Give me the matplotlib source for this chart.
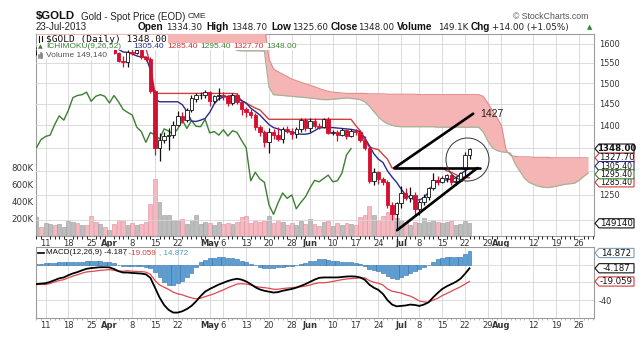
import numpy as np
import pandas as pd
import matplotlib
matplotlib.use("Agg")
import matplotlib.pyplot as plt
from matplotlib.patches import Polygon, Rectangle
from matplotlib.lines import Line2D

plt.rcParams["font.family"] = ["DejaVu Sans"]

# ---------------- trading calendar ----------------
holidays = ["2013-03-29", "2013-05-27", "2013-07-04"]
sessions = pd.bdate_range("2013-03-07", "2013-08-30").drop(pd.to_datetime(holidays))

tick_dates = ["2013-03-11", "2013-03-18", "2013-03-25", "2013-04-01", "2013-04-08",
              "2013-04-15", "2013-04-22", "2013-05-01", "2013-05-06", "2013-05-13",
              "2013-05-20", "2013-05-28", "2013-06-03", "2013-06-10", "2013-06-17",
              "2013-06-24", "2013-07-01", "2013-07-08", "2013-07-15", "2013-07-22",
              "2013-07-29", "2013-08-01", "2013-08-12", "2013-08-19", "2013-08-26"]
tick_labels = ["11", "18", "25", "Apr", "8", "15", "22", "May", "6", "13", "20", "28",
               "Jun", "10", "17", "24", "Jul", "8", "15", "22", "29", "Aug", "12", "19", "26"]
month_names = ["Apr", "May", "Jun", "Jul", "Aug"]

# right-hand price scale labels (others sit under the value tags)
price_grid = [1200, 1250, 1300, 1350, 1400, 1450, 1500, 1550, 1600]
price_labels = ["", "1250", "", "", "1400", "1450", "1500", "1550", "1600"]

# ---------------- daily OHLC ----------------
opens = [1577, 1580, 1577, 1579, 1591, 1588, 1591, 1593, 1604, 1612,
         1607, 1613, 1607, 1604, 1596, 1605, 1596, 1599, 1576, 1556,
         1553, 1578, 1575, 1582, 1565, 1561, 1480, 1350, 1368, 1375,
         1378, 1402, 1422, 1412, 1435, 1462, 1470, 1472, 1478, 1456,
         1468, 1472, 1468, 1452, 1470, 1455, 1437, 1430, 1424, 1396,
         1386, 1362, 1384, 1378, 1369, 1392, 1387, 1380, 1392, 1412,
         1393, 1411, 1398, 1397, 1414, 1383, 1386, 1378, 1390, 1376,
         1388, 1384, 1366, 1350, 1279, 1297, 1283, 1276, 1230, 1211,
         1234, 1254, 1243, 1250, 1222, 1235, 1246, 1264, 1280, 1277,
         1284, 1291, 1277, 1279, 1303, 1334.3]
highs = [1584, 1590, 1584, 1595, 1596, 1595, 1598, 1609, 1614, 1616,
         1614, 1614, 1610, 1606, 1607, 1606, 1604, 1602, 1579, 1569,
         1584, 1586, 1588, 1590, 1568, 1564, 1484, 1382, 1385, 1395,
         1410, 1433, 1430, 1440, 1470, 1477, 1478, 1483, 1480, 1470,
         1488, 1478, 1470, 1476, 1475, 1458, 1442, 1437, 1428, 1400,
         1390, 1395, 1392, 1396, 1396, 1398, 1393, 1396, 1418, 1418,
         1416, 1416, 1405, 1418, 1420, 1390, 1390, 1395, 1392, 1392,
         1392, 1390, 1375, 1355, 1306, 1300, 1287, 1280, 1235, 1236,
         1268, 1264, 1267, 1255, 1240, 1251, 1266, 1295, 1290, 1290,
         1293, 1294, 1290, 1298, 1340, 1348.7]
lows = [1570, 1565, 1572, 1576, 1583, 1584, 1586, 1590, 1600, 1602,
        1603, 1603, 1592, 1591, 1592, 1591, 1590, 1572, 1553, 1540,
        1540, 1570, 1572, 1560, 1555, 1476, 1335, 1321, 1360, 1345,
        1372, 1398, 1405, 1407, 1430, 1455, 1462, 1465, 1445, 1452,
        1460, 1460, 1445, 1448, 1450, 1425, 1420, 1418, 1390, 1375,
        1352, 1338, 1370, 1365, 1360, 1382, 1370, 1372, 1385, 1388,
        1385, 1393, 1392, 1395, 1380, 1378, 1365, 1375, 1370, 1374,
        1378, 1362, 1346, 1275, 1270, 1273, 1271, 1223, 1200, 1180,
        1223, 1240, 1235, 1207, 1210, 1230, 1240, 1260, 1270, 1275,
        1277, 1270, 1270, 1276, 1290, 1325.6]
closes = [1580, 1577, 1579, 1591, 1588, 1591, 1593, 1604, 1612, 1607,
          1613, 1607, 1604, 1596, 1605, 1596, 1599, 1576, 1556, 1553,
          1578, 1575, 1582, 1565, 1561, 1480, 1350, 1368, 1375, 1378,
          1402, 1422, 1412, 1435, 1465, 1470, 1472, 1478, 1456, 1468,
          1472, 1468, 1452, 1470, 1455, 1437, 1430, 1424, 1396, 1386,
          1362, 1384, 1378, 1369, 1392, 1387, 1380, 1392, 1412, 1393,
          1411, 1398, 1397, 1414, 1383, 1386, 1378, 1390, 1376, 1388,
          1384, 1366, 1350, 1279, 1297, 1283, 1276, 1230, 1211, 1234,
          1254, 1243, 1250, 1222, 1235, 1246, 1264, 1280, 1277, 1284,
          1291, 1277, 1279, 1295, 1334, 1348]
volume_k = [225, 110, 150, 145, 130, 145, 100, 175, 165, 150,
            130, 130, 235, 165, 140, 105, 75, 145, 185, 175,
            125, 150, 125, 140, 165, 373, 675, 400, 243, 243,
            190, 185, 204, 145, 185, 243, 140, 165, 150, 135,
            165, 140, 150, 145, 160, 220, 235, 150, 175, 160,
            180, 230, 150, 175, 160, 125, 150, 130, 175, 140,
            200, 140, 120, 165, 180, 120, 155, 130, 150, 145,
            130, 220, 250, 353, 250, 190, 230, 285, 265, 210,
            190, 170, 130, 170, 150, 210, 170, 190, 170, 150,
            160, 175, 130, 140, 175, 149.14]

# ---------------- Ichimoku (9, 26, 52) ----------------
tenkan = [1588, 1588, 1589, 1590, 1590, 1592, 1592, 1594, 1595, 1596,
          1597, 1597, 1596, 1596, 1595, 1594, 1592, 1590, 1585, 1578,
          1577, 1573, 1568, 1565, 1565, 1533, 1462, 1455, 1455, 1455,
          1455, 1455, 1448, 1432, 1410, 1409, 1412, 1416, 1430, 1450,
          1462, 1466, 1468, 1470, 1465, 1458, 1452, 1440, 1432, 1424,
          1413, 1402, 1395, 1392, 1388, 1386, 1385, 1382, 1380, 1380,
          1382, 1388, 1394, 1395, 1395, 1395, 1394, 1393, 1392, 1391,
          1389, 1386, 1372, 1355, 1337, 1325, 1318, 1300, 1287, 1276,
          1262, 1250, 1244, 1240, 1240, 1244, 1256, 1272, 1278, 1280,
          1281, 1283, 1285, 1293, 1300, 1305.4]
kijun = [1586, 1586, 1587, 1587, 1588, 1588, 1588, 1588, 1588, 1588,
         1588, 1588, 1588, 1588, 1588, 1588, 1588, 1588, 1588, 1588,
         1588, 1588, 1588, 1588, 1588, 1546, 1475, 1475, 1475, 1475,
         1475, 1475, 1475, 1475, 1475, 1475, 1475, 1475, 1475, 1475,
         1475, 1475, 1475, 1475, 1474, 1456, 1452, 1446, 1440, 1436,
         1425, 1414, 1414, 1414, 1414, 1414, 1414, 1414, 1414, 1414,
         1414, 1414, 1414, 1414, 1414, 1414, 1414, 1414, 1414, 1414,
         1400, 1388, 1365, 1352, 1348, 1346, 1335, 1325, 1306, 1306,
         1306, 1306, 1306, 1306, 1306, 1306, 1306, 1306, 1306, 1306,
         1300, 1297, 1292, 1288, 1286, 1285.4]
senkou_a = [1594, 1594, 1593, 1593, 1593, 1592, 1592, 1592, 1592, 1592,
            1592, 1592, 1592, 1592, 1592, 1592, 1592, 1592, 1592, 1592,
            1592, 1592, 1592, 1592, 1592, 1592, 1592, 1592, 1592, 1592,
            1592, 1592, 1592, 1592, 1592, 1592, 1592, 1591, 1591, 1590,
            1590, 1590, 1590, 1590, 1582, 1581, 1581, 1581, 1581, 1581,
            1580, 1490, 1472, 1471, 1470, 1469, 1468, 1467, 1466, 1465,
            1464, 1463, 1461, 1460, 1460, 1461, 1462, 1463, 1464, 1463,
            1462, 1460, 1455, 1445, 1432, 1420, 1410, 1404, 1400, 1398,
            1397, 1397, 1397, 1397, 1397, 1397, 1397, 1397, 1396, 1396,
            1396, 1396, 1396, 1396, 1396, 1396, 1396, 1396, 1385, 1365,
            1350, 1344, 1341, 1340, 1338, 1315, 1300, 1285, 1276, 1272,
            1268, 1266, 1265, 1266, 1268, 1270, 1272, 1273, 1274, 1280,
            1288, 1295.4]
senkou_b = [1650, 1650, 1650, 1650, 1650, 1650, 1650, 1650, 1650, 1650,
            1650, 1650, 1650, 1650, 1650, 1650, 1650, 1650, 1650, 1650,
            1650, 1650, 1650, 1650, 1650, 1650, 1650, 1650, 1650, 1650,
            1650, 1650, 1650, 1650, 1650, 1650, 1650, 1650, 1650, 1650,
            1650, 1650, 1650, 1650, 1650, 1650, 1650, 1650, 1650, 1650,
            1650, 1560, 1535, 1528, 1522, 1516, 1510, 1506, 1502, 1498,
            1495, 1491, 1487, 1483, 1480, 1478, 1477, 1476, 1475, 1475,
            1475, 1475, 1475, 1474, 1474, 1474, 1474, 1473, 1473, 1473,
            1473, 1473, 1473, 1473, 1472, 1472, 1472, 1472, 1472, 1472,
            1472, 1472, 1472, 1472, 1472, 1472, 1472, 1472, 1468, 1452,
            1435, 1418, 1400, 1345, 1333, 1331, 1330, 1330, 1330, 1329,
            1329, 1329, 1329, 1328, 1328, 1328, 1328, 1328, 1328, 1328,
            1328, 1327.7]

# ---------------- MACD (12, 26, 9) ----------------
macd_line = [-22.0, -21.5, -21.0, -19.5, -17.5, -15.5, -14.5, -12.0, -10.0, -8.5,
             -6.5, -4.8, -4.0, -3.5, -3.0, -3.0, -3.2, -5.0, -7.5, -9.0,
             -9.0, -9.5, -9.8, -10.2, -11.0, -15.0, -26.0, -37.0, -45.5, -51.0,
             -54.0, -54.0, -52.5, -50.0, -46.5, -41.5, -35.5, -30.5, -27.5, -25.0,
             -22.5, -20.5, -18.5, -17.0, -16.0, -17.0, -19.0, -22.0, -25.5, -28.0,
             -29.5, -30.5, -31.5, -31.0, -29.5, -28.5, -27.5, -26.0, -24.0, -22.0,
             -19.5, -17.0, -15.0, -14.5, -14.5, -14.5, -14.5, -14.0, -13.5, -13.3,
             -13.5, -14.5, -17.0, -22.5, -26.0, -28.5, -33.0, -40.0, -45.0, -47.0,
             -46.5, -46.0, -45.0, -45.5, -46.5, -45.0, -42.5, -37.0, -32.0, -27.5,
             -24.5, -22.0, -19.5, -16.0, -10.5, -4.187]
macd_signal = [-22.5, -22.3, -22.5, -21.3, -19.5, -18.0, -17.0, -14.8, -13.0, -11.5,
               -9.7, -8.3, -7.8, -7.3, -6.5, -6.2, -5.7, -6.5, -7.5, -7.5,
               -7.0, -7.5, -7.8, -8.0, -8.5, -11.0, -18.0, -23.0, -25.5, -28.0,
               -31.0, -33.0, -34.0, -36.0, -37.5, -38.5, -38.0, -36.0, -34.5, -32.8,
               -30.5, -28.5, -26.0, -24.0, -22.0, -21.5, -22.0, -23.0, -24.5, -25.5,
               -26.0, -26.7, -27.7, -27.8, -27.0, -26.5, -26.0, -25.5, -25.0, -24.2,
               -23.0, -21.5, -20.5, -20.5, -20.0, -19.0, -18.0, -17.0, -16.3, -15.8,
               -15.5, -15.0, -15.0, -18.0, -20.0, -21.0, -23.0, -27.5, -30.0, -31.0,
               -32.0, -34.0, -35.5, -38.0, -41.0, -42.0, -42.5, -40.0, -38.0, -35.0,
               -32.5, -30.0, -27.5, -25.0, -22.0, -19.059]
macd_hist = [0.5, 0.8, 1.5, 1.8, 2.0, 2.5, 2.5, 2.8, 3.0, 3.0,
             3.2, 3.5, 3.8, 3.8, 3.5, 3.2, 2.5, 1.5, 0.0, -1.5,
             -2.0, -2.0, -2.0, -2.2, -2.5, -4.0, -8.0, -14.0, -20.0, -23.0,
             -23.0, -21.0, -18.5, -14.0, -9.0, -3.0, 2.5, 5.5, 7.0, 7.8,
             8.0, 8.0, 7.5, 7.0, 6.0, 4.5, 3.0, 1.0, -1.0, -2.5,
             -3.5, -3.8, -3.8, -3.2, -2.5, -2.0, -1.5, -0.5, 1.0, 2.2,
             3.5, 4.5, 6.5, 6.5, 5.5, 4.5, 3.5, 3.0, 2.8, 2.5,
             2.0, 0.5, -2.0, -4.5, -6.0, -7.5, -10.0, -12.5, -15.0, -16.0,
             -14.5, -12.0, -9.5, -7.5, -5.5, -3.0, 0.0, 3.0, 6.0, 7.5,
             8.0, 8.0, 8.0, 9.0, 11.5, 14.872]

# ---------------- figure layout ----------------
W, H = 643, 340
fig = plt.figure(figsize=(W / 100, H / 100), dpi=100, facecolor="white")


def frac(x, y):
    return x / W, 1 - y / H


def rect(x0, y0, x1, y1):
    return [x0 / W, 1 - y1 / H, (x1 - x0) / W, (y1 - y0) / H]


main_rect = rect(36, 34, 594, 236)
macd_rect = rect(36, 247, 594, 318)

ax_vol = fig.add_axes(main_rect)
ax = fig.add_axes(main_rect, sharex=ax_vol)
ax.patch.set_visible(False)
ax_m = fig.add_axes(macd_rect, sharex=ax_vol)

XLIM = (-0.1, 122.3)
PRICE_LIM = (1169, 1625)
VOL_MAX = 2.376e6
MACD_LIM = (-60.1, 19.7)

grid_c = "#d6d6d6"
frame_c = "#9c9c9c"
red = "#d40f2f"

x = np.arange(len(closes))
tick_pos = sessions.get_indexer(pd.to_datetime(tick_dates))

# ---------------- volume ----------------
vol = np.array(volume_k) * 1000
c = np.array(closes)
prev = np.r_[opens[0], c[:-1]]
down = c < prev
ax_vol.bar(x, vol, width=0.85, color=np.where(down, "#f4b9c1", "#bdbdbd"),
           edgecolor=np.where(down, "#e38c9a", "#9a9a9a"), linewidth=0.4, zorder=2)
ax_vol.set_ylim(0, VOL_MAX)
ax_vol.set_xlim(*XLIM)
ax_vol.set_yticks([200e3, 400e3, 600e3, 800e3])
ax_vol.set_yticklabels(["200K", "400K", "600K", "800K"], fontsize=6.2, color="#333333")
ax_vol.tick_params(axis="y", length=0, pad=1.5)
ax_vol.tick_params(axis="x", which="both", length=0, labelbottom=False)
for s in ax_vol.spines.values():
    s.set_color(frame_c)
    s.set_linewidth(0.8)
for p in tick_pos:
    ax_vol.axvline(p, color=grid_c, lw=0.6, zorder=0)

# ---------------- price panel ----------------
ax.set_yscale("log")
ax.set_ylim(*PRICE_LIM)
ax.set_xlim(*XLIM)
for s in ax.spines.values():
    s.set_visible(False)

for lvl in price_grid:
    ax.axhline(lvl, color=grid_c, lw=0.6, zorder=0)

# cloud
xc = np.arange(len(senkou_a))
ax.fill_between(xc, senkou_a, senkou_b, color="#f6b5b5", lw=0, zorder=1)
ax.plot(xc, senkou_b, color="#e38a8a", lw=0.8, zorder=1.5)
ax.plot(xc, senkou_a, color="#a6b298", lw=0.9, zorder=1.5)

# chikou span: closes plotted 26 sessions back
ax.plot(x[:len(closes) - 26], closes[26:], color="#3d7f33", lw=1.0, zorder=3)
ax.plot(x, kijun, color="#d24040", lw=1.0, zorder=3)
ax.plot(x, tenkan, color="#2a2a8c", lw=1.0, zorder=3)

# candles
o = np.array(opens)
edge = np.where(down, red, "#111111")
fill = np.where(c < o, red, "white")
ax.vlines(x, lows, highs, colors=edge, lw=0.9, zorder=4)
body_lo = np.minimum(o, c)
body_h = np.maximum(np.abs(c - o), 0.8)
ax.bar(x, body_h, bottom=body_lo, width=0.76, color=fill, edgecolor=edge,
       linewidth=0.6, zorder=5)

# hand-drawn triangle, target and circle
ax.plot([79.1, 96.7], [1180, 1306], color="black", lw=1.9, zorder=7, solid_capstyle="round")
ax.plot([78.5, 97.2], [1306, 1306], color="black", lw=1.9, zorder=7, solid_capstyle="round")
ax.plot([78.5, 95.8], [1306, 1427], color="black", lw=1.9, zorder=7, solid_capstyle="round")
ax.text(97.3, 1427, "1427", fontsize=7.5, color="#222222", ha="left", va="center",
        family="Liberation Sans", zorder=7)
ax.plot([94.5], [1325.6], marker="o", markersize=31, mfc="none", mec="#333333",
        mew=0.7, zorder=7)

ax.yaxis.tick_right()
ax.set_yticks(price_grid)
ax.set_yticklabels(price_labels, fontsize=5.9, color="#333333")
ax.yaxis.set_minor_locator(matplotlib.ticker.NullLocator())
ax.tick_params(axis="y", which="both", length=0, pad=3.5)
ax.set_xticks(tick_pos)
ax.set_xticklabels(tick_labels, fontsize=6, color="#333333")
ax.tick_params(axis="x", length=0, pad=2.2)
for lbl in ax.get_xticklabels():
    if lbl.get_text() in month_names:
        lbl.set_fontweight("bold")

# ---------------- MACD panel ----------------
ax_m.set_xlim(*XLIM)
ax_m.set_ylim(*MACD_LIM)
for p in tick_pos:
    ax_m.axvline(p, color=grid_c, lw=0.6, zorder=0)
for lvl in (-40, -20, 0):
    ax_m.axhline(lvl, color=grid_c, lw=0.6, zorder=0)
ax_m.bar(x, macd_hist, width=0.85, color="#5b9fd6", edgecolor="#2f6ea6", linewidth=0.4, zorder=2)
ax_m.plot(x, macd_signal, color="#e0474c", lw=0.9, zorder=3)
ax_m.plot(x, macd_line, color="black", lw=1.3, zorder=4)
for s in ax_m.spines.values():
    s.set_color(frame_c)
    s.set_linewidth(0.8)
ax_m.yaxis.tick_right()
ax_m.set_yticks([-40, -20, 0])
ax_m.set_yticklabels(["-40", "", ""], fontsize=5.9, color="#333333")
ax_m.tick_params(axis="y", length=0, pad=3.5)
ax_m.set_xticks(tick_pos)
ax_m.set_xticklabels(tick_labels, fontsize=6, color="#333333")
ax_m.set_xticks(np.arange(0, 123), minor=True)
ax_m.tick_params(axis="x", which="major", length=0, pad=2.2)
ax_m.tick_params(axis="x", which="minor", length=1.5, width=0.5, color="#999999")
for lbl in ax_m.get_xticklabels():
    if lbl.get_text() in month_names:
        lbl.set_fontweight("bold")

# ---------------- legends inside panels ----------------
def box(x0, y0, x1, y1, z=6):
    fig.patches.append(Rectangle(frac(x0, y1), (x1 - x0) / W, (y1 - y0) / H,
                                 transform=fig.transFigure, fc="white", ec="none", zorder=z))


def T(xp, yp, s, **kw):
    kw.setdefault("va", "center")
    kw.setdefault("zorder", 7)
    fig.text(*frac(xp, yp), s, **kw)


box(36.6, 34.6, 168, 43)
box(36.6, 43, 296, 50)
box(36.6, 50, 114, 59.5)

T(46, 39, "$GOLD (Daily) 1348.00", fontsize=6.8, family="DejaVu Sans Mono", color="#111111")
fig.lines.append(Line2D([38.5 / W, 38.5 / W], [1 - 36 / H, 1 - 42 / H],
                        transform=fig.transFigure, color="#111", lw=0.8, zorder=7))
fig.lines.append(Line2D([41.5 / W, 41.5 / W], [1 - 35.5 / H, 1 - 41 / H],
                        transform=fig.transFigure, color="#111", lw=0.8, zorder=7))
T(37.5, 47, "▲", fontsize=4.5, color="#3d7f33")
lf = dict(fontsize=6, family="Liberation Sans")
T(46, 47, "ICHIMOKU(9,26,52)", color="#3d7f33", **lf)
T(133, 47, "1305.40", color="#2a2a8c", **lf)
T(167, 47, "1285.40", color="#c83232", **lf)
T(200, 47, "1295.40", color="#3d7f33", **lf)
T(233, 47, "1327.70", color="#c83232", **lf)
T(266, 47, "1348.00", color="#3d7f33", **lf)
for xi, hh in ((38.5, 3), (40.5, 5), (42.5, 4)):
    fig.lines.append(Line2D([xi / W, xi / W], [1 - 58 / H, 1 - (58 - hh) / H],
                            transform=fig.transFigure, color="#777", lw=1.1, zorder=7))
T(46, 55, "Volume 149,140", color="#555555", **lf)

fig.lines.append(Line2D([38 / W, 44 / W], [1 - 252.5 / H] * 2, transform=fig.transFigure,
                        color="black", lw=1.2, zorder=7))
mf = dict(fontsize=5.8, family="Liberation Sans")
T(46, 252.5, "MACD(12,26,9) -4.187", color="#111111", **mf)
T(124, 252.5, ", -19.059", color="#d23c3c", **mf)
T(159, 252.5, ", 14.872", color="#4a98c9", **mf)

# ---------------- value tags on the right ----------------
tag_z = [10]


def tag(text, ec, y_px, bold=False, size=6.2):
    yf = 1 - y_px / H
    x0, x1, x2, hh = 595, 599, 634, 4.6
    pts = [(x0 / W, yf), (x1 / W, yf + hh / H), (x2 / W, yf + hh / H),
           (x2 / W, yf - hh / H), (x1 / W, yf - hh / H)]
    z = tag_z[0]
    tag_z[0] += 2
    fig.patches.append(Polygon(pts, closed=True, transform=fig.transFigure, fc="white",
                               ec=ec, lw=0.8, zorder=z))
    fig.text((x1 + x2) / 2 / W, yf, text, ha="center", va="center", fontsize=size,
             color="#111111", fontweight="bold" if bold else "normal", zorder=z + 1)


def px_of(axis, value):
    return H - axis.transData.transform((0, value))[1]


tag("1348.00", "#111111", px_of(ax, 1348.0), bold=True)
tag("1327.70", "#d23c3c", px_of(ax, 1327.7))
tag("1305.40", "#2a2a8c", px_of(ax, 1327.7) + 8.2, size=5.6)
tag("1285.40", "#d23c3c", px_of(ax, 1327.7) + 24.4, size=5.6)
tag("1295.40", "#3d7f33", px_of(ax, 1327.7) + 16.3, size=5.6)
tag("149140", "#111111", px_of(ax_vol, 149140))
tag("14.872", "#7d9db8", 253)
tag("-4.187", "#111111", px_of(ax_m, -4.187))
tag("-19.059", "#d23c3c", px_of(ax_m, -19.059))

# ---------------- header ----------------
T(36, 16.5, "$GOLD", fontsize=8.2, fontweight="bold", family="Liberation Sans", color="#111111")
T(81, 16.5, "Gold - Spot Price (EOD)", fontsize=7, family="Liberation Sans", color="#222222")
T(188, 17, "CME", fontsize=6, family="Liberation Sans", color="#222222")
T(513, 16.5, "© StockCharts.com", fontsize=6.3, family="Liberation Sans", color="#555555")

hb = dict(fontsize=7.2, family="Liberation Sans", fontweight="bold", color="#111111")
hn = dict(fontsize=6.3, family="DejaVu Sans", color="#222222")
T(36, 27.5, "23-Jul-2013", fontsize=7, family="Liberation Sans", color="#222222")
T(138, 27.5, "Open", **hb)
T(166, 27.5, "1334.30", **hn)
T(206, 27.5, "High", **hb)
T(231, 27.5, "1348.70", **hn)
T(271, 27.5, "Low", **hb)
T(292, 27.5, "1325.60", **hn)
T(331, 27.5, "Close", **hb)
T(358, 27.5, "1348.00", **hn)
T(397, 27.5, "Volume", **hb)
T(438, 27.5, "149.1K", **hn)
T(471, 27.5, "Chg", **hb)
T(492, 27.5, "+14.00 (+1.05%)", **hn)
T(587, 27, "▲", fontsize=5, color="#2e8b2e")

fig.savefig("out.png", dpi=100, facecolor="white")
